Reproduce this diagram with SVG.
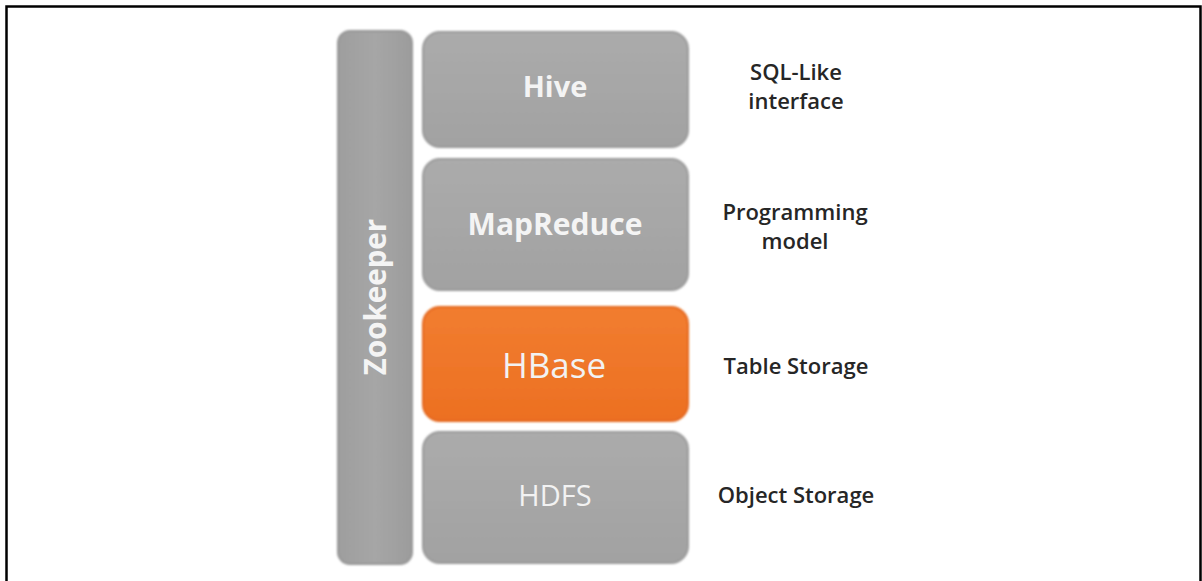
<svg xmlns="http://www.w3.org/2000/svg" width="1202" height="581" viewBox="0 0 1202 581">
  <defs>
    <linearGradient id="grayFill" x1="0" y1="0" x2="0" y2="1">
      <stop offset="0" stop-color="#ababab"/>
      <stop offset="1" stop-color="#a2a2a2"/>
    </linearGradient>
    <linearGradient id="zkFill" x1="0" y1="0" x2="1" y2="0">
      <stop offset="0" stop-color="#9e9e9e"/>
      <stop offset="0.5" stop-color="#a6a6a6"/>
      <stop offset="1" stop-color="#9c9c9c"/>
    </linearGradient>
    <linearGradient id="orangeFill" x1="0" y1="0" x2="0" y2="1">
      <stop offset="0" stop-color="#f27d30"/>
      <stop offset="1" stop-color="#ec7022"/>
    </linearGradient>
    <filter id="soft" x="-5%" y="-5%" width="110%" height="110%">
      <feGaussianBlur stdDeviation="0.8"/>
    </filter>
  </defs>
  <style>
    .box { stroke-width: 2; filter: url(#soft); }
    .gray { fill: url(#grayFill); stroke: #9a9a9a; }
    .orange { fill: url(#orangeFill); stroke: #e4661a; }
    .zk { fill: url(#zkFill); stroke: #969696; }
    .bold { font-family: "Open Sans", "Liberation Sans", sans-serif; font-weight: 700; fill: #f4f4f4; text-anchor: middle; }
    .reg { font-family: "Open Sans", "Liberation Sans", sans-serif; font-weight: 400; fill: #f2f2f2; text-anchor: middle; }
    .side { font-family: "Open Sans", "Liberation Sans", sans-serif; font-weight: 600; font-size: 22px; fill: #262626; text-anchor: middle; }
  </style>

  <rect width="1202" height="581" fill="#ffffff"/>
  <!-- frame (open at the bottom) -->
  <path d="M6.5 581 V6.5 H1200.5 V581" fill="none" stroke="#000" stroke-width="2.5"/>

  <g id="zookeeper">
    <rect class="box zk" x="338" y="31" width="74" height="533" rx="12"/>
    <text class="bold" font-size="29.5" transform="translate(386 297) rotate(-90)">Zookeeper</text>
  </g>

  <g id="hive">
    <rect class="box gray" x="423" y="32" width="265" height="115" rx="17"/>
    <text class="bold" x="555" y="97" font-size="29">Hive</text>
  </g>

  <g id="mapreduce">
    <rect class="box gray" x="423" y="159" width="265" height="131" rx="17"/>
    <text class="bold" x="555" y="235" font-size="30">MapReduce</text>
  </g>

  <g id="hbase">
    <rect class="box orange" x="423" y="307" width="265" height="114" rx="17"/>
    <text class="reg" x="554" y="378" font-size="35" fill="#fdf3ea">HBase</text>
  </g>

  <g id="hdfs">
    <rect class="box gray" x="423" y="432" width="265" height="131" rx="17"/>
    <text class="reg" x="555" y="506" font-size="29">HDFS</text>
  </g>

  <g id="labels">
    <text class="side" x="796" y="80">SQL-Like</text>
    <text class="side" x="796" y="109">interface</text>
    <text class="side" x="795" y="220">Programming</text>
    <text class="side" x="795" y="249">model</text>
    <text class="side" x="796" y="374">Table Storage</text>
    <text class="side" x="796" y="503">Object Storage</text>
  </g>

  <g id="connectors"/>
</svg>
